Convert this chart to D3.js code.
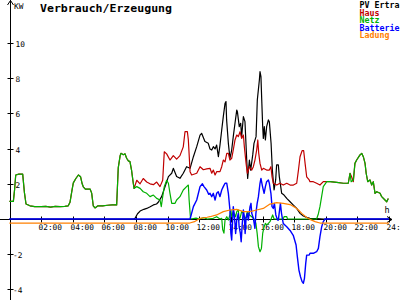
<!DOCTYPE html>
<html><head><meta charset="utf-8">
<script src="https://cdn.jsdelivr.net/npm/d3@7"></script>
<style>html,body{margin:0;padding:0;background:#fff;overflow:hidden}</style>
</head><body><svg id="c" width="400" height="300"></svg>
<script>
const title = "Verbrauch/Erzeugung";
const yUnit = "KW";
const xUnit = "h";
const xTicks = [2,4,6,8,10,12,14,16,18,20,22,24];
const xTickLabels = ["02:00","04:00","06:00","08:00","10:00","12:00","14:00","16:00","18:00","20:00","22:00","24:00"];
const yTicks = [-4,-2,2,4,6,8,10];
const legendNames = ["PV Ertra","Haus","Netz","Batterie","Ladung"];
const colors = ["#000000","#c00000","#00b000","#0000ff","#ff8000"];

const pvErtrag = [[0,0],[7.85,0],[7.94,0.04],[8.1,0.3],[8.26,0.45],[8.5,0.55],[8.68,0.6],[8.9,0.7],[9.1,0.8],[9.3,0.85],[9.41,0.95],[9.62,1.27],[9.84,1.84],[10.05,2.41],[10.26,2.6],[10.36,2.88],[10.57,2.41],[10.78,2.31],[10.99,2.6],[11.2,2.97],[11.42,2.88],[11.63,3.54],[11.84,4.11],[12.05,4.77],[12.15,4.87],[12.36,4.4],[12.57,4.3],[12.68,3.98],[12.79,3.92],[12.89,4.11],[13.0,3.98],[13.1,4.2],[13.21,3.54],[13.31,4.2],[13.42,5.06],[13.52,5.82],[13.63,6.57],[13.69,6.67],[13.73,5.63],[13.84,4.3],[13.94,3.45],[14.05,3.92],[14.15,4.68],[14.26,5.44],[14.37,6.19],[14.41,6.1],[14.53,5.25],[14.62,5.44],[14.68,4.68],[14.79,5.82],[14.89,5.53],[15.0,3.35],[15.06,2.31],[15.17,3.35],[15.25,2.78],[15.38,3.64],[15.46,4.3],[15.59,4.68],[15.67,6.76],[15.8,7.9],[15.84,8.37],[15.9,8.09],[15.95,6.76],[16.01,5.25],[16.05,4.58],[16.11,5.25],[16.18,4.49],[16.26,5.25],[16.37,5.63],[16.43,5.53],[16.54,4.3],[16.62,2.78],[16.73,1.65],[16.83,2.22],[16.89,3.07],[17.0,3.07],[17.06,2.41],[17.15,1.84],[17.21,1.46],[17.36,1.36],[17.53,1.17],[17.74,0.98],[17.95,0.79],[18.16,0.6],[18.37,0.32],[18.58,0.17],[18.79,0.09],[19.0,0.04],[19.42,0.02],[19.84,0],[24,0]];

const haus = [[0,1.0],[0.25,1.0],[0.32,1.6],[0.4,2.5],[0.6,2.55],[0.84,2.55],[0.95,1.5],[1.05,0.85],[1.3,0.75],[1.6,0.7],[2.0,0.7],[2.3,0.72],[2.6,0.68],[2.9,0.72],[3.2,0.7],[3.5,0.72],[3.72,0.75],[3.83,0.95],[3.95,1.6],[4.04,2.05],[4.2,2.3],[4.36,2.5],[4.5,2.4],[4.6,2.0],[4.67,1.83],[4.8,1.7],[4.95,1.7],[5.1,1.7],[5.2,1.47],[5.3,0.75],[5.41,0.63],[5.6,0.75],[5.9,0.75],[6.2,0.78],[6.5,0.8],[6.78,0.8],[6.88,2.9],[7.0,3.6],[7.05,3.73],[7.2,3.65],[7.31,3.7],[7.41,3.45],[7.52,3.3],[7.62,3.26],[7.72,2.78],[7.83,2.03],[7.88,1.74],[8.05,2.2],[8.26,2.0],[8.46,2.3],[8.68,2.1],[8.89,2.0],[9.1,1.95],[9.31,2.1],[9.52,1.84],[9.69,2.2],[9.79,3.82],[9.94,3.7],[10.15,3.35],[10.36,3.6],[10.57,3.4],[10.78,3.6],[10.99,4.1],[11.1,4.96],[11.25,4.96],[11.31,4.5],[11.42,2.69],[11.52,2.5],[11.84,2.6],[12.05,2.97],[12.26,2.8],[12.47,2.85],[12.68,2.88],[12.79,2.6],[12.89,2.78],[13.0,2.5],[13.1,2.69],[13.31,2.69],[13.42,2.97],[13.52,3.35],[13.63,3.25],[13.74,3.73],[13.84,3.73],[13.94,3.35],[14.05,3.45],[14.15,3.92],[14.26,4.49],[14.37,4.77],[14.47,4.68],[14.58,4.96],[14.68,4.58],[14.79,4.77],[14.85,4.11],[14.96,3.16],[15.04,2.6],[15.17,2.97],[15.32,2.78],[15.42,2.97],[15.52,3.35],[15.63,3.92],[15.7,4.49],[15.76,3.73],[15.84,3.16],[15.95,2.78],[16.05,2.88],[16.26,2.78],[16.43,2.78],[16.53,2.97],[16.6,2.41],[16.68,2.03],[16.9,1.93],[17.1,2.03],[17.31,1.93],[17.53,2.03],[17.74,1.93],[17.95,1.93],[18.16,2.03],[18.27,2.78],[18.37,3.54],[18.5,3.88],[18.6,3.88],[18.69,3.16],[18.79,2.4],[18.95,2.22],[19.0,2.12],[19.21,2.12],[19.42,2.03],[19.63,1.93],[19.84,2.12],[20.06,2.12],[20.27,2.12],[20.69,2.08],[21.11,2.03],[21.42,2.03],[21.53,2.6],[21.63,2.4],[21.74,2.12],[21.84,3.16],[21.95,3.35],[22.16,3.64],[22.27,3.73],[22.37,3.54],[22.48,3.16],[22.55,2.6],[22.65,2.12],[22.79,2.22],[22.9,1.93],[23.0,2.12],[23.11,1.46],[23.22,1.55],[23.43,1.46],[23.53,1.27],[23.74,1.08],[23.85,0.98],[23.95,1.17]];

const netz = [[0,1.0],[0.25,1.0],[0.32,1.6],[0.4,2.5],[0.6,2.55],[0.84,2.55],[0.95,1.5],[1.05,0.85],[1.3,0.75],[1.6,0.7],[2.0,0.7],[2.3,0.72],[2.6,0.68],[2.9,0.72],[3.2,0.7],[3.5,0.72],[3.72,0.75],[3.83,0.95],[3.95,1.6],[4.04,2.05],[4.2,2.3],[4.36,2.5],[4.5,2.4],[4.6,2.0],[4.67,1.83],[4.8,1.7],[4.95,1.7],[5.1,1.7],[5.2,1.47],[5.3,0.75],[5.41,0.63],[5.6,0.75],[5.9,0.75],[6.2,0.78],[6.5,0.8],[6.78,0.8],[6.88,2.9],[7.0,3.6],[7.05,3.73],[7.2,3.65],[7.31,3.7],[7.41,3.45],[7.52,3.3],[7.62,3.26],[7.72,2.78],[7.83,2.03],[7.88,1.74],[8.05,1.84],[8.26,1.74],[8.46,1.55],[8.68,1.46],[8.89,1.27],[9.1,1.36],[9.31,1.17],[9.52,1.08],[9.6,0.7],[9.69,1.27],[9.79,1.84],[9.94,2.2],[10.05,2.03],[10.15,1.46],[10.26,0.89],[10.47,0.89],[10.57,1.08],[10.78,1.27],[10.99,1.65],[11.2,1.84],[11.31,1.93],[11.36,1.08],[11.45,0],[11.8,0.05],[12.0,0],[12.3,0.08],[12.5,0],[12.89,0.04],[13.1,0.13],[13.31,0],[13.42,0.04],[13.48,-0.6],[13.56,-0.8],[13.63,-0.06],[13.74,0.13],[13.84,-0.06],[13.94,0.23],[14.0,0.51],[14.05,0.13],[14.15,0.42],[14.2,0.32],[14.3,0.13],[14.37,0.42],[14.47,0.51],[14.52,-0.06],[14.6,0.13],[14.68,0.42],[14.79,0.32],[14.85,-0.06],[14.96,0.13],[15.04,0.42],[15.17,0.23],[15.32,0.13],[15.42,0.04],[15.52,-0.06],[15.58,-0.25],[15.66,-0.82],[15.74,-1.57],[15.84,-1.86],[15.93,-1.67],[16.01,-0.82],[16.1,-0.44],[16.18,-0.25],[16.26,-0.34],[16.37,-0.25],[16.47,-0.15],[16.56,0.04],[16.64,0.23],[16.73,0],[17.31,0],[17.36,0.13],[17.53,0.13],[17.58,0],[19.42,0],[19.53,0.3],[19.63,0.7],[19.74,1.3],[19.84,1.84],[20.06,2.12],[20.27,2.12],[20.69,2.08],[21.11,2.03],[21.42,2.03],[21.53,2.6],[21.6,2.12],[21.74,2.22],[21.84,3.16],[21.95,3.35],[22.16,3.64],[22.27,3.73],[22.37,3.54],[22.48,3.16],[22.55,2.6],[22.65,2.12],[22.79,2.22],[22.9,1.93],[23.0,2.12],[23.11,1.46],[23.22,1.55],[23.43,1.46],[23.53,1.27],[23.74,1.08],[23.85,0.98],[23.95,1.17]];

const batterie = [[0,0],[11.42,0],[11.63,0.7],[11.84,1.08],[12.05,1.84],[12.2,2.0],[12.3,1.84],[12.47,1.65],[12.6,1.4],[12.68,1.46],[12.79,1.27],[12.89,1.46],[13.0,1.08],[13.1,1.46],[13.2,1.55],[13.31,1.27],[13.42,1.65],[13.52,1.84],[13.63,2.03],[13.74,2.03],[13.84,1.46],[13.94,0.51],[14.0,-0.82],[14.05,-1.19],[14.1,-0.25],[14.15,0.7],[14.2,0.32],[14.26,-0.25],[14.3,-0.82],[14.37,-0.06],[14.47,0.32],[14.52,-0.44],[14.6,-0.82],[14.65,-1.29],[14.72,-0.25],[14.79,0.51],[14.85,0.13],[14.9,-0.82],[14.96,0.04],[15.04,0.32],[15.1,-0.06],[15.21,0.7],[15.27,0.89],[15.32,0.32],[15.42,0.04],[15.52,-0.53],[15.58,0.32],[15.66,0.89],[15.74,1.27],[15.84,2.03],[15.9,2.31],[16.0,1.84],[16.1,1.46],[16.18,1.84],[16.26,2.12],[16.37,2.22],[16.43,2.03],[16.53,1.46],[16.6,0.7],[16.68,0.6],[16.75,0.89],[16.84,0.23],[16.95,-0.06],[17.0,-0.06],[17.05,0.32],[17.13,0.89],[17.2,0.32],[17.27,-0.06],[17.31,-0.25],[17.53,-0.44],[17.74,-0.65],[17.95,-0.95],[18.12,-1.48],[18.2,-2.14],[18.3,-2.9],[18.4,-3.28],[18.5,-3.56],[18.58,-3.65],[18.65,-3.37],[18.73,-2.52],[18.79,-2.05],[18.95,-2.05],[19.0,-1.95],[19.21,-1.95],[19.42,-1.86],[19.53,-1.67],[19.63,-1.0],[19.74,-0.44],[19.84,-0.15],[19.95,0],[24,0]];

const ladung = [[0,-0.23],[11.4,-0.23],[11.7,-0.15],[12.05,0.04],[12.5,0.1],[12.68,0.13],[13.1,0.23],[13.52,0.42],[13.94,0.51],[14.37,0.55],[14.79,0.42],[15.21,0.42],[15.63,0.51],[16.05,0.6],[16.47,0.85],[16.89,0.93],[17.31,0.89],[17.74,0.82],[18.06,0.66],[18.27,0.51],[18.48,0.32],[18.79,0.09],[19.0,-0.02],[19.32,-0.15],[19.63,-0.23],[24,-0.23]];

const series = [pvErtrag, haus, netz, batterie, ladung];

const svg = d3.select('#c');
const x = d3.scaleLinear().domain([0,24]).range([9.4,389.1]);
const y = d3.scaleLinear().domain([-4,10]).range([289.4,43]);
const font = "'DejaVu Sans Mono', monospace";

// axes
const axisY = Math.round(y(0)) + 0.5;
const axisX = 10.5;
svg.append('line').attr('x1',0).attr('x2',392).attr('y1',axisY).attr('y2',axisY).attr('stroke','#000');
svg.append('line').attr('x1',axisX).attr('x2',axisX).attr('y1',0).attr('y2',300).attr('stroke','#000');
svg.append('path').attr('d',`M${axisX-3},5 L${axisX},0.5 L${axisX+3},5`).attr('fill','none').attr('stroke','#000');
svg.append('path').attr('d',`M387,${axisY-3} L392,${axisY} L387,${axisY+3}`).attr('fill','none').attr('stroke','#000');

xTicks.forEach((t,i)=>{
  const px = Math.round(x(t)) + 0.5;
  svg.append('line').attr('x1',px).attr('x2',px).attr('y1',axisY-3).attr('y2',axisY+3).attr('stroke','#000');
  svg.append('text').attr('x',px-3).attr('y',axisY+10).attr('font-family',font).attr('font-size',7.8)
    .attr('textLength',23.5).attr('lengthAdjust','spacingAndGlyphs').text(xTickLabels[i]);
});
yTicks.forEach(t=>{
  const py = Math.round(y(t)) + 0.5;
  svg.append('line').attr('x1',axisX-3).attr('x2',axisX+3).attr('y1',py).attr('y2',py).attr('stroke','#000');
  svg.append('text').attr('x', t<0 ? 13 : 15.5).attr('y',py+3).attr('font-family',font).attr('font-size',7.8).text(String(t));
});
svg.append('text').attr('x',14).attr('y',9).attr('font-family',font).attr('font-size',7.8).text(yUnit);
svg.append('text').attr('x',384.5).attr('y',212.5).attr('font-family',font).attr('font-size',8.5).text(xUnit);

svg.append('text').attr('x',40).attr('y',12).attr('font-family',font).attr('font-weight','bold').attr('font-size',11)
  .attr('textLength',132).attr('lengthAdjust','spacingAndGlyphs').text(title);

// lines
const line = d3.line().x(d=>x(d[0])).y(d=>y(d[1]));
series.forEach((s,i)=>{
  svg.append('path').datum(s).attr('d',line).attr('fill','none').attr('stroke',colors[i])
    .attr('stroke-width', i===3 ? 1.4 : 1.2).attr('stroke-linejoin','round');
});

// legend
legendNames.forEach((n,i)=>{
  svg.append('text').attr('x',359.5).attr('y',8+i*7.6).attr('font-family',font).attr('font-weight','bold')
    .attr('font-size',8).attr('fill',colors[i]).attr('textLength',n.length*5).attr('lengthAdjust','spacingAndGlyphs').text(n);
});
</script></body></html>
